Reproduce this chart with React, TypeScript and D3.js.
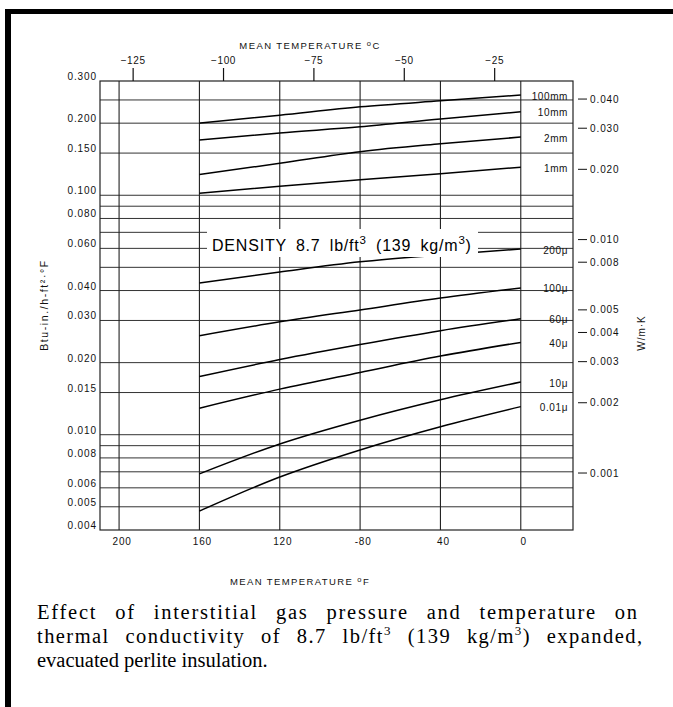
import React, { useLayoutEffect, useRef } from 'react';
import * as d3 from 'd3';

// mean temperature (°F) where the curves were read
const tempsF = [-160, -120, -80, -40, 0];

// thermal conductivity, Btu-in/h-ft2-°F, one array per gas pressure
const pressureLabels = ['100mm', '10mm', '2mm', '1mm', '200\u03bc', '100\u03bc', '60\u03bc', '40\u03bc', '10\u03bc', '0.01\u03bc'];
const k100mm = [0.200, 0.216, 0.234, 0.248, 0.262];
const k10mm = [0.170, 0.182, 0.193, 0.208, 0.223];
const k2mm = [0.122, 0.136, 0.152, 0.164, 0.175];
const k1mm = [0.102, 0.109, 0.116, 0.123, 0.131];
const k200u = [0.0430, 0.0478, 0.0527, 0.0563, 0.0596];
const k100u = [0.0259, 0.0296, 0.0332, 0.0372, 0.0410];
const k60u = [0.0175, 0.0206, 0.0238, 0.0272, 0.0305];
const k40u = [0.0129, 0.0155, 0.0182, 0.0213, 0.0243];
const k10u = [0.00686, 0.00915, 0.0115, 0.0140, 0.0166];
const k001u = [0.0048, 0.00666, 0.00864, 0.0108, 0.0131];
const seriesValues = [k100mm, k10mm, k2mm, k1mm, k200u, k100u, k60u, k40u, k10u, k001u];

// axes
const leftTicks = [0.3, 0.2, 0.15, 0.1, 0.08, 0.06, 0.04, 0.03, 0.02, 0.015, 0.01, 0.008, 0.006, 0.005, 0.004];
const gridLevels = [0.25, 0.2, 0.15, 0.1, 0.09, 0.08, 0.07, 0.06, 0.05, 0.04, 0.03, 0.02, 0.015, 0.01, 0.009, 0.008, 0.007, 0.006, 0.005];
const xTicksF = [-200, -160, -120, -80, -40, 0];
const xTickLabels = ['200', '160', '120', '-80', '40', '0'];
const topTicksC = [-125, -100, -75, -50, -25];
const rightTicksW = [0.04, 0.03, 0.02, 0.01, 0.008, 0.005, 0.004, 0.003, 0.002, 0.001];

const W = 673;
const H = 707;
const plot = { left: 100, right: 573, top: 81, bottom: 530 };

const x = d3.scaleLinear().domain([-209.5, 26]).range([plot.left, plot.right]);
const y = d3.scaleLog().domain([0.004, 0.3]).range([plot.bottom, plot.top]);
const yRight = d3.scaleLog().domain([0.00057, 0.0478]).range([plot.bottom, plot.top]);
const cToF = (c: number) => (c * 9) / 5 + 32;

const sans = "'Liberation Sans', Arial, sans-serif";
const serif = "'Liberation Serif', 'Times New Roman', serif";

const line = d3
  .line<number>()
  .x((_, i) => x(tempsF[i]))
  .y((d) => y(d))
  .curve(d3.curveMonotoneX);

export default function App() {
  const cap1 = useRef<SVGTextElement>(null);
  const cap2 = useRef<SVGTextElement>(null);

  useLayoutEffect(() => {
    document.body.style.margin = '0';
    // justify the first two caption lines: spread the slack over letters and words
    const fit = (el: SVGTextElement | null, right: number) => {
      if (!el) return;
      el.setAttribute('word-spacing', '0');
      el.setAttribute('letter-spacing', '0');
      const w = el.getComputedTextLength();
      const txt = el.textContent || '';
      const spaces = txt.split(' ').length - 1;
      const extra = right - 37 - w;
      if (extra <= 0 || spaces === 0) return;
      const ls = (extra * 0.55) / (txt.length - 1);
      const ws = (extra * 0.45) / spaces;
      el.setAttribute('letter-spacing', String(ls));
      el.setAttribute('word-spacing', String(ws));
    };
    fit(cap1.current, 637);
    fit(cap2.current, 642);
  }, []);

  return (
    <svg width={W} height={H} style={{ position: 'absolute', left: 0, top: 0, background: '#fff' }}>
      {/* page frame */}
      <rect x={5} y={9} width={6} height={H - 9} fill="#000" />
      <rect x={5} y={9} width={W - 5} height={5} fill="#000" />

      {/* horizontal grid */}
      {gridLevels.map((v) => (
        <line key={'g' + v} x1={plot.left} x2={plot.right} y1={y(v)} y2={y(v)} stroke="#333" strokeWidth={1} />
      ))}
      {/* vertical grid */}
      {xTicksF.map((t) => (
        <line key={'v' + t} x1={x(t)} x2={x(t)} y1={plot.top} y2={plot.bottom} stroke="#222" strokeWidth={1.1} />
      ))}
      <rect x={plot.left} y={plot.top} width={plot.right - plot.left} height={plot.bottom - plot.top} fill="none" stroke="#222" strokeWidth={1.2} />

      {/* curves */}
      {seriesValues.map((vals, i) => (
        <path key={'c' + i} d={line(vals) || ''} fill="none" stroke="#000" strokeWidth={1.5} />
      ))}

      {/* density label */}
      <rect x={207} y={229} width={271} height={28} fill="#fff" />
      <text x={212} y={251} fontFamily={sans} fontSize={16} letterSpacing={0.8} wordSpacing={4} fill="#000">
        DENSITY 8.7 lb/ft<tspan dy={-7} fontSize={11.5}>3</tspan>
        <tspan dy={7}> (139 kg/m</tspan>
        <tspan dy={-7} fontSize={11.5}>3</tspan>
        <tspan dy={7}>)</tspan>
      </text>

      {/* pressure labels */}
      {pressureLabels.map((p, i) => (
        <text key={'p' + i} x={568} y={y(seriesValues[i][4]) + 4.5} textAnchor="end" fontFamily={sans} fontSize={10} letterSpacing={0.6} fill="#111">
          {p}
        </text>
      ))}

      {/* left axis labels */}
      {leftTicks.map((v) => (
        <text key={'l' + v} x={97} y={y(v) - 1} textAnchor="end" fontFamily={sans} fontSize={10} letterSpacing={0.9} fill="#111">
          {v.toFixed(3)}
        </text>
      ))}
      <text transform={`translate(48,305) rotate(-90)`} textAnchor="middle" fontFamily={sans} fontSize={10.5} letterSpacing={1.6} fill="#111">
        Btu-in./h-ft²·°F
      </text>

      {/* right axis W/m·K */}
      {rightTicksW.map((v) => (
        <g key={'r' + v}>
          <line x1={578} x2={587} y1={yRight(v)} y2={yRight(v)} stroke="#111" strokeWidth={1} />
          <text x={590} y={yRight(v) + 3.5} fontFamily={sans} fontSize={10} letterSpacing={0.9} fill="#111">
            {v.toFixed(3)}
          </text>
        </g>
      ))}
      <text transform={`translate(645,333) rotate(-90)`} textAnchor="middle" fontFamily={sans} fontSize={10} letterSpacing={1} fill="#111">
        W/m·K
      </text>

      {/* bottom axis */}
      {xTicksF.map((t, i) => (
        <text key={'b' + t} x={x(t) + 3} y={545} textAnchor="middle" fontFamily={sans} fontSize={10} letterSpacing={0.8} fill="#111">
          {xTickLabels[i]}
        </text>
      ))}
      <text x={300} y={585} textAnchor="middle" fontFamily={sans} fontSize={9.5} letterSpacing={1.4} fill="#111">
        MEAN TEMPERATURE <tspan dy={-3} fontSize={7.5}>o</tspan>
        <tspan dy={3}>F</tspan>
      </text>

      {/* top axis °C */}
      {topTicksC.map((c) => (
        <g key={'t' + c}>
          <line x1={x(cToF(c))} x2={x(cToF(c))} y1={68} y2={plot.top} stroke="#111" strokeWidth={1.2} />
          <text x={x(cToF(c))} y={64} textAnchor="middle" fontFamily={sans} fontSize={10} letterSpacing={0.6} fill="#111">
            {'\u2212' + Math.abs(c)}
          </text>
        </g>
      ))}
      <text x={310} y={49} textAnchor="middle" fontFamily={sans} fontSize={9.5} letterSpacing={1.4} fill="#111">
        MEAN TEMPERATURE <tspan dy={-3} fontSize={7.5}>o</tspan>
        <tspan dy={3}>C</tspan>
      </text>

      {/* caption */}
      <text ref={cap1} x={37} y={619} fontFamily={serif} fontSize={20.5} fill="#000">
        Effect of interstitial gas pressure and temperature on
      </text>
      <text ref={cap2} x={37} y={643} fontFamily={serif} fontSize={20.5} fill="#000">
        thermal conductivity of 8.7 lb/ft<tspan dy={-8} fontSize={13}>3</tspan>
        <tspan dy={8}> (139 kg/m</tspan>
        <tspan dy={-8} fontSize={13}>3</tspan>
        <tspan dy={8}>) expanded,</tspan>
      </text>
      <text x={37} y={667} fontFamily={serif} fontSize={20.5} fill="#000">
        evacuated perlite insulation.
      </text>
    </svg>
  );
}
